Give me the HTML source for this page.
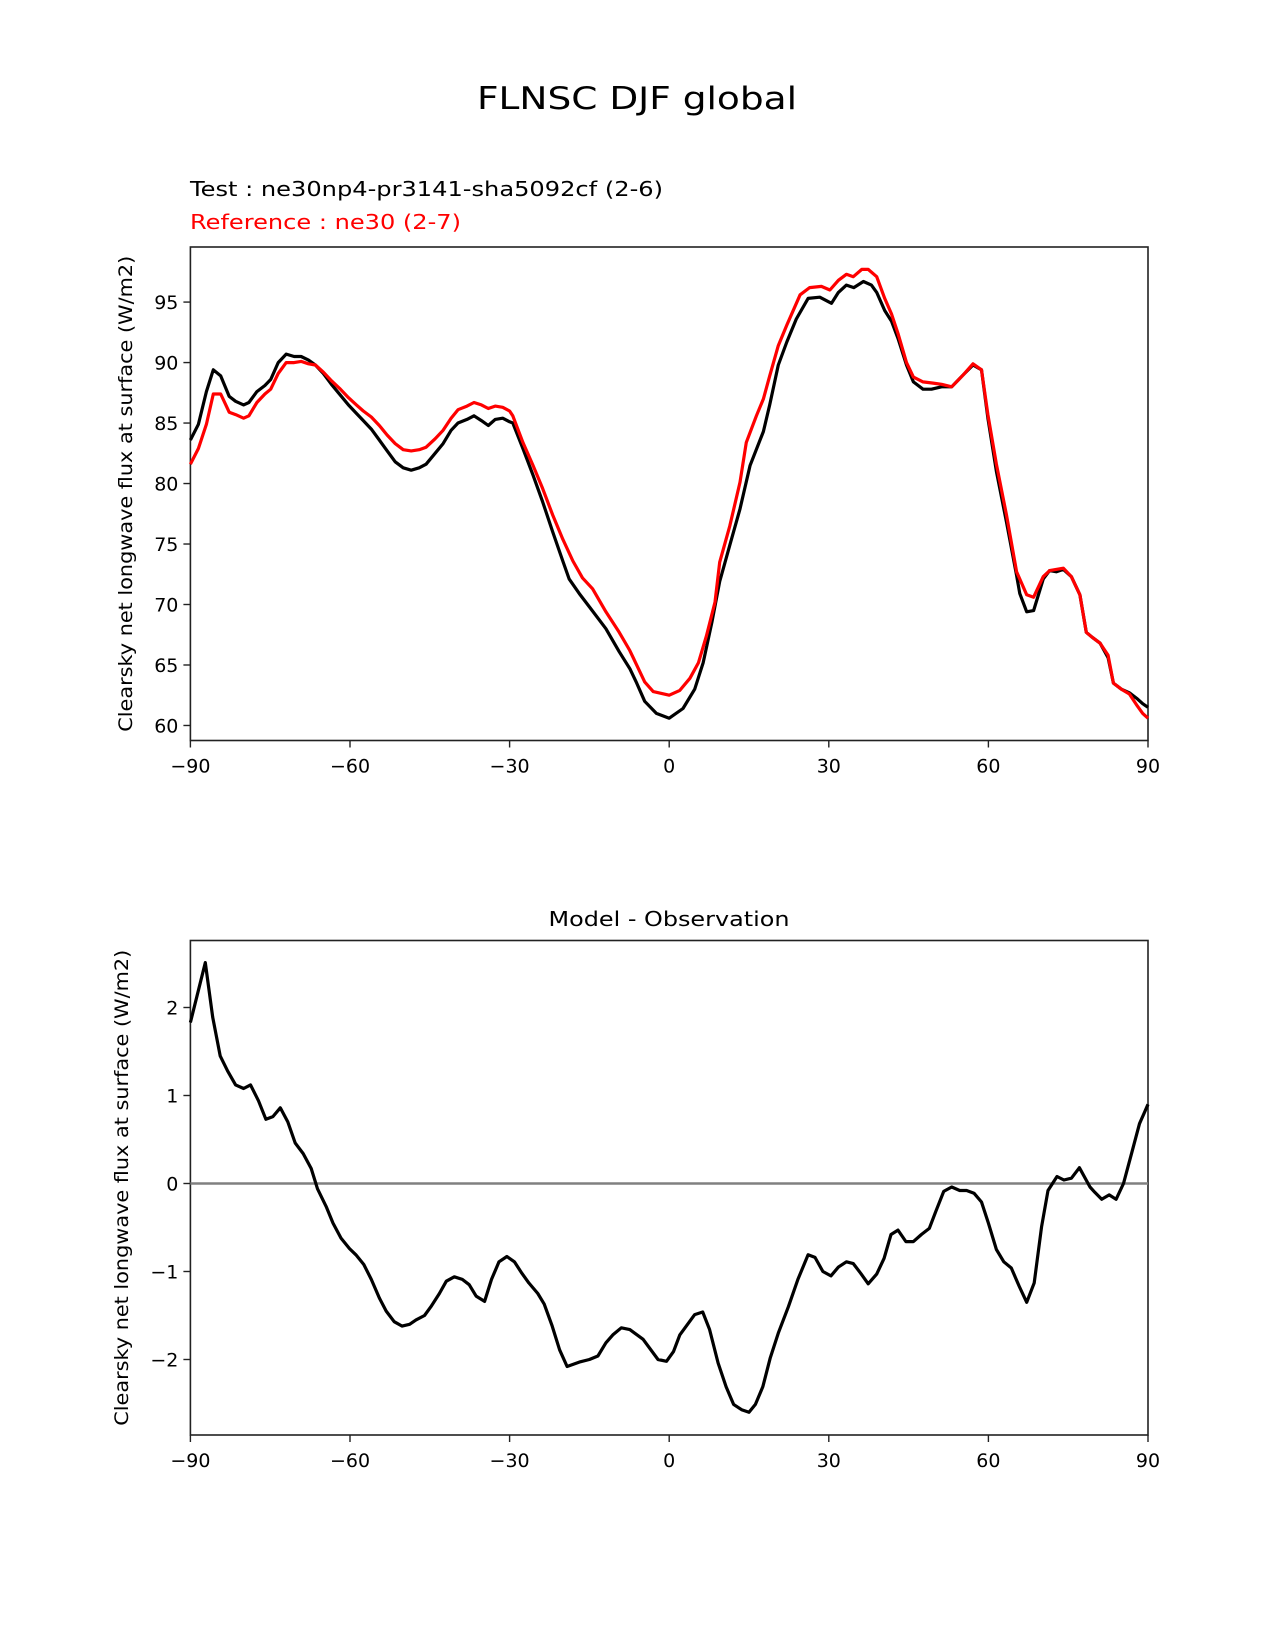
<!DOCTYPE html>
<html><head><meta charset="utf-8"><title>FLNSC DJF global</title>
<style>html,body{margin:0;padding:0;background:#fff}svg{display:block}text{font-family:"DejaVu Sans","Liberation Sans",sans-serif}</style>
</head><body>
<svg id="fig" width="1275" height="1650" viewBox="0 0 1275 1650" xmlns="http://www.w3.org/2000/svg">
<text x="637" y="109" font-size="31" text-anchor="middle" textLength="320" lengthAdjust="spacingAndGlyphs">FLNSC DJF global</text>
<text x="190" y="196" font-size="20" textLength="473" lengthAdjust="spacingAndGlyphs">Test : ne30np4-pr3141-sha5092cf (2-6)</text>
<text x="190" y="229" font-size="20" fill="#ff0000" textLength="271" lengthAdjust="spacingAndGlyphs">Reference : ne30 (2-7)</text>
<text x="669" y="926" font-size="20" text-anchor="middle" textLength="241" lengthAdjust="spacingAndGlyphs">Model - Observation</text>
<g id="top"></g><g id="bot"></g>
</svg>
<script>
const testLat=[-90,-88.5,-87,-85.7,-84.3,-82.7,-81.5,-80,-79,-77.5,-76,-74.9,-73.5,-72,-70.5,-69.2,-67.8,-66.5,-65,-63.5,-61.8,-60.3,-58.8,-57.5,-56,-54.5,-53,-51.5,-50,-48.5,-47,-45.7,-44,-42.5,-41,-39.7,-38,-36.7,-35.3,-34,-32.7,-31.3,-30,-29.4,-27.5,-25.6,-23.8,-21.9,-20,-18.8,-16.9,-15,-11.9,-9.4,-7.4,-6.1,-4.6,-2.4,0,2.6,4.8,6.4,8,9.5,11.4,13.3,15.2,17.7,18.9,20.5,22.1,23.9,26.1,28.3,30.5,31.8,33.3,34.7,36.5,38,39,40.5,41.8,43,44.6,45.9,47.7,49.3,51.2,53.1,55.3,57.1,58.7,59.9,61.5,63.4,65.3,65.9,67.2,68.5,70.3,71.5,72.8,74.1,75.6,77.2,78.4,79.5,81,82.5,83.5,85,86.5,88,89,90];
const testVal=[83.6,84.9,87.6,89.4,88.9,87.2,86.8,86.5,86.7,87.6,88.1,88.6,90.0,90.7,90.5,90.5,90.2,89.8,89.1,88.2,87.3,86.5,85.8,85.2,84.5,83.6,82.7,81.8,81.3,81.1,81.3,81.6,82.5,83.3,84.4,85.0,85.3,85.6,85.2,84.8,85.3,85.4,85.1,85.0,82.9,80.7,78.5,76.0,73.6,72.1,70.9,69.8,68.0,66.1,64.7,63.5,62.0,61.0,60.6,61.4,63.0,65.2,68.5,71.9,74.9,77.9,81.5,84.3,86.5,89.8,91.7,93.6,95.3,95.4,94.9,95.8,96.4,96.2,96.7,96.4,95.8,94.3,93.4,92.0,89.8,88.4,87.8,87.8,88.0,88.0,89.0,89.8,89.4,85.4,81.0,76.8,72.4,70.9,69.4,69.5,72.1,72.8,72.7,72.9,72.3,70.8,67.7,67.3,66.8,65.6,63.5,63.0,62.7,62.2,61.8,61.5];
const refLat=[-90,-88.5,-87,-85.7,-84.3,-82.7,-81.5,-80,-79,-77.5,-76,-74.9,-73.5,-72,-70.5,-69.2,-67.8,-66.5,-65,-63.5,-61.8,-60.3,-58.8,-57.5,-56,-54.5,-53,-51.5,-50,-48.5,-47,-45.7,-44,-42.5,-41,-39.7,-38,-36.7,-35.3,-34,-32.7,-31.3,-30,-29.4,-27.5,-25.6,-23.8,-21.9,-20,-18.1,-16.3,-14.4,-11.9,-9.4,-7.4,-6.1,-4.6,-3,0,2,3.9,5.5,7,8.6,9.5,11.4,13.3,14.5,16.4,17.7,18.9,20.5,22.1,24.6,26.4,28.6,30.2,31.8,33.3,34.6,36.2,37.4,39,40.5,41.8,43,44.6,45.9,47.7,49.6,51.2,53.1,55.3,57.1,58.7,59.9,61.5,63.4,65.3,67.2,68.5,70.3,71.5,74.1,75.6,77.2,78.4,79.5,81,82.5,83.5,85,86.5,88,89,90];
const refVal=[81.6,82.9,84.9,87.4,87.4,85.9,85.7,85.4,85.6,86.7,87.4,87.8,89.1,90.0,90.0,90.1,89.9,89.8,89.2,88.5,87.8,87.1,86.5,86.0,85.5,84.8,84.0,83.3,82.8,82.7,82.8,83.0,83.7,84.4,85.4,86.1,86.4,86.7,86.5,86.2,86.4,86.3,86.0,85.6,83.4,81.5,79.6,77.4,75.4,73.6,72.2,71.3,69.4,67.7,66.2,65.0,63.6,62.8,62.5,62.9,63.9,65.2,67.4,70.2,73.5,76.5,80.1,83.4,85.6,87.0,88.9,91.4,93.1,95.6,96.2,96.3,96.0,96.8,97.3,97.1,97.7,97.7,97.1,95.3,94.0,92.4,90.0,88.8,88.4,88.3,88.2,88.0,89.0,89.9,89.4,85.7,81.6,77.4,72.7,70.8,70.6,72.3,72.8,73.0,72.3,70.8,67.7,67.3,66.8,65.8,63.5,63.0,62.6,61.6,61.0,60.6];
const diffLat=[-90,-87.2,-85.8,-84.4,-83,-81.5,-80,-78.7,-77.2,-75.8,-74.5,-73.1,-71.7,-70.3,-68.8,-67.3,-66.1,-64.5,-63.2,-61.7,-60.1,-58.9,-57.4,-56,-54.5,-53.2,-51.7,-50.2,-48.8,-47.6,-46,-44.8,-43.2,-41.9,-40.4,-38.9,-37.6,-36.3,-34.7,-33.4,-32,-30.5,-29.1,-27.8,-26.4,-24.7,-23.5,-22,-20.6,-19.2,-16.9,-15,-13.4,-11.9,-10.6,-9,-7.4,-4.9,-2.1,-0.5,0.8,2,4.8,6.3,7.6,9.2,10.7,12.1,13.6,15,16.2,17.6,19,20.5,22.4,24.2,26.1,27.4,28.9,30.4,31.8,33.3,34.6,36,37.4,39,40.4,41.7,43,44.5,45.9,47.4,48.9,50.1,51.6,53.1,54.6,55.9,57.3,58.7,60,61.5,62.9,64.3,65.8,67.2,68.6,70,71.2,72.9,74.2,75.6,77.1,79.1,80,81.3,82.7,84,85.4,87,88.4,90];
const diffVal=[1.83,2.51,1.89,1.45,1.28,1.12,1.08,1.12,0.94,0.73,0.76,0.86,0.70,0.46,0.34,0.17,-0.06,-0.26,-0.45,-0.62,-0.74,-0.81,-0.92,-1.09,-1.30,-1.45,-1.57,-1.62,-1.60,-1.55,-1.50,-1.40,-1.25,-1.11,-1.06,-1.09,-1.15,-1.28,-1.34,-1.09,-0.89,-0.83,-0.89,-1.01,-1.13,-1.25,-1.37,-1.62,-1.89,-2.08,-2.03,-2.00,-1.96,-1.81,-1.72,-1.64,-1.66,-1.77,-2.00,-2.02,-1.91,-1.72,-1.49,-1.46,-1.66,-2.04,-2.31,-2.51,-2.57,-2.60,-2.51,-2.31,-1.98,-1.70,-1.40,-1.09,-0.81,-0.84,-1.00,-1.05,-0.95,-0.89,-0.91,-1.02,-1.14,-1.03,-0.85,-0.58,-0.53,-0.66,-0.66,-0.58,-0.51,-0.32,-0.09,-0.04,-0.08,-0.08,-0.11,-0.21,-0.45,-0.75,-0.89,-0.96,-1.17,-1.35,-1.13,-0.49,-0.08,0.08,0.04,0.06,0.18,-0.04,-0.10,-0.18,-0.13,-0.18,0.00,0.36,0.68,0.90];
const xTicks=[-90,-60,-30,0,30,60,90];
const topTicks=[60,65,70,75,80,85,90,95];
const botTicks=[-2,-1,0,1,2];

const NS='http://www.w3.org/2000/svg';
function mk(parent,tag,attrs){const e=document.createElementNS(NS,tag);for(const k in attrs)e.setAttribute(k,attrs[k]);parent.appendChild(e);return e;}
const L=190.4,R=1148;
const xs=v=>L+(v+90)/180*(R-L);
function panel(g,top,bot,yMin,yMax,ticks,ylab,labY){
  const ys=v=>bot-(v-yMin)/(yMax-yMin)*(bot-top);
  const frame=mk(g,'rect',{x:L,y:top,width:R-L,height:bot-top,fill:'none',stroke:'#222','stroke-width':1.6});
  
  
  xTicks.forEach(t=>{
    const tk=mk(g,'line',{x1:xs(t),x2:xs(t),y1:bot,y2:bot+7,stroke:'#222','stroke-width':1.4});
    
    
    const tx=mk(g,'text',{x:xs(t),y:bot+32,'font-size':19,'text-anchor':'middle'});
    tx.textContent=t<0?'\u2212'+(-t):String(t);
    
    
  });
  ticks.forEach(t=>{
    const tk=mk(g,'line',{x1:L-7,x2:L,y1:ys(t),y2:ys(t),stroke:'#222','stroke-width':1.4});
    
    
    const tx=mk(g,'text',{x:L-12,y:ys(t)+7,'font-size':19,'text-anchor':'end'});
    tx.textContent=t<0?'\u2212'+(-t):String(t);
    
    
  });
  const yl=mk(g,'text',{x:0,y:0,'font-size':19,'text-anchor':'middle',transform:`translate(${labY},${(top+bot)/2}) rotate(-90)`,textLength:476,lengthAdjust:'spacingAndGlyphs'});
  yl.textContent=ylab;
  
  
  return ys;
}
function line(g,lat,val,xsF,ysF,color,name){
  const d=lat.map((v,i)=>(i?'L':'M')+xsF(v).toFixed(1)+','+ysF(val[i]).toFixed(1)).join('');
  const p=mk(g,'path',{d:d,fill:'none',stroke:color,'stroke-width':3.2,'stroke-linejoin':'round'});
  
  
}
const gt=document.getElementById('top');
const topYMin=60-(740.5-725.5)/12.08, topYMax=95+(302-247)/12.08;
const ysTop=panel(gt,247,740.5,topYMin,topYMax,topTicks,'Clearsky net longwave flux at surface (W/m2)',132);
line(gt,testLat,testVal,xs,ysTop,'#000','test-line');
line(gt,refLat,refVal,xs,ysTop,'#ff0000','reference-line');
const gb=document.getElementById('bot');
const botYMax=(1183.5-940.5)/88, botYMin=-(1435-1183.5)/88;
const ysBot=panel(gb,940.5,1435,botYMin,botYMax,botTicks,'Clearsky net longwave flux at surface (W/m2)',128);
const z=mk(gb,'line',{x1:L,x2:R,y1:ysBot(0),y2:ysBot(0),stroke:'#808080','stroke-width':2.6});


line(gb,diffLat,diffVal,xs,ysBot,'#000','difference-line');
</script>
</body></html>
